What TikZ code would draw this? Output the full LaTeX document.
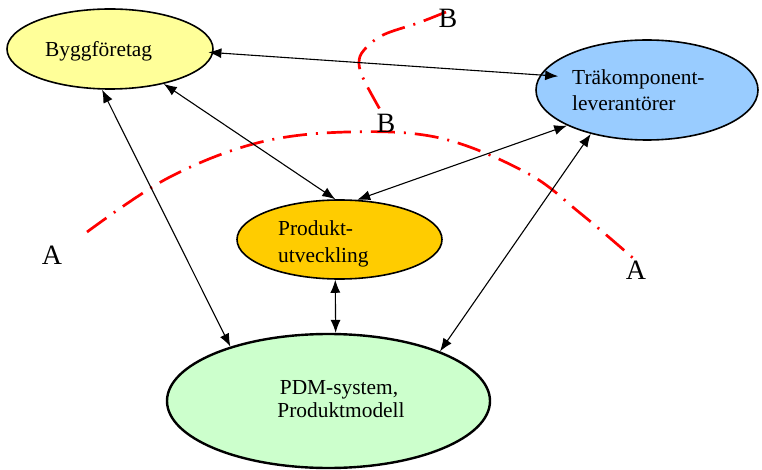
\documentclass[tikz,border=0pt]{standalone}
\usepackage{fontspec}
\setmainfont{Liberation Serif}
\usetikzlibrary{shapes.geometric,arrows.meta}

\definecolor{byggyellow}{HTML}{FFFF99}
\definecolor{traeblue}{HTML}{99CCFF}
\definecolor{produktorange}{HTML}{FFCC00}
\definecolor{pdmgreen}{HTML}{CCFFCC}

\tikzset{
  blob/.style={ellipse, draw, inner sep=0pt, line width=1.6pt},
  txt/.style={inner sep=0pt, font=\fontsize{21.4}{26}\selectfont},
  cutlbl/.style={inner sep=0pt, font=\fontsize{28}{30}\selectfont},
  link/.style={{Latex[length=13pt,width=10pt]}-{Latex[length=13pt,width=10pt]}, line width=1.1pt},
  cutline/.style={red, line width=2.7pt, dash pattern=on 24pt off 9pt on 2pt off 9pt},
}

\begin{document}
\begin{tikzpicture}[x=1pt,y=-1pt]
  \useasboundingbox (0,0) rectangle (762,470);

  % actors
  \node[blob, fill=byggyellow, minimum width=206pt, minimum height=80pt] (bygg) at (110,49) {};
  \node[blob, fill=traeblue, minimum width=222pt, minimum height=100pt] (trae) at (647,90) {};
  \node[blob, fill=produktorange, minimum width=205pt, minimum height=79pt] (prod) at (339.5,239.5) {};
  \node[blob, fill=pdmgreen, line width=2.4pt, minimum width=323pt, minimum height=134pt] (pdm) at (328.5,401) {};

  % cuts A and B
  \draw[cutline] plot[smooth, tension=0.6] coordinates {(87,232) (168,178) (257,143) (347,132) (440,138) (527,173) (580,213) (633,258)};
  \draw[cutline] plot[smooth, tension=0.6] coordinates {(446,12) (418,23) (383,35) (364,50) (359,63) (364,80) (382,113)};

  % information flows
  \draw[link, shorten <=-5pt, shorten >=-18pt] (bygg.-2) -- (trae.172);
  \draw[link] (bygg.-33) -- (prod.96);
  \draw[link] (bygg.-101) -- (pdm.151);
  \draw[link] (trae.204) -- (prod.66);
  \draw[link] (trae.218) -- (pdm.24);
  \draw[link] (prod.-96) -- (pdm.84);

  % texts
  \node[txt, anchor=base west] (bygg-l1) at (45,57) {Byggföretag};
  \node[txt, anchor=base west] (trae-l1) at (572,85) {Träkomponent-};
  \node[txt, anchor=base west] (trae-l2) at (572,111) {leverantörer};
  \node[txt, anchor=base west] (prod-l1) at (278,236) {Produkt-};
  \node[txt, anchor=base west] (prod-l2) at (278,262) {utveckling};
  \node[txt, anchor=base] (pdm-l1) at (339,394) {PDM-system,};
  \node[txt, anchor=base] (pdm-l2) at (341,417) {Produktmodell};

  \node[cutlbl] (a-left) at (52,255) {A};
  \node[cutlbl] (a-right) at (636,270) {A};
  \node[cutlbl] (b-top) at (448,18) {B};
  \node[cutlbl] (b-low) at (386,123) {B};
\end{tikzpicture}
\end{document}
